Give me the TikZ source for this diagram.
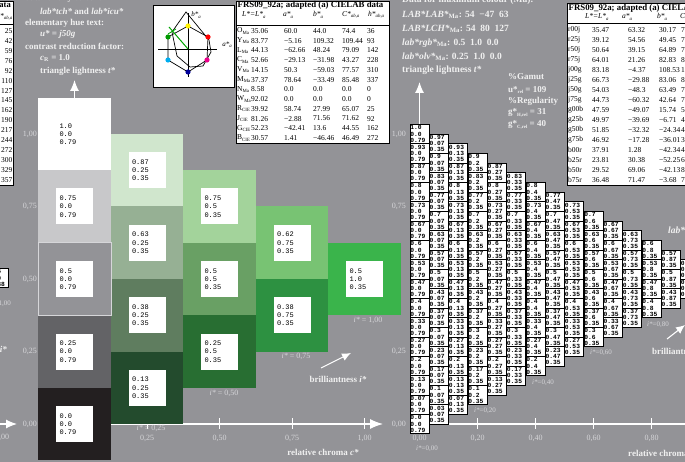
\documentclass[tikz,border=0pt]{standalone}
\usepackage{fontspec}
\setmainfont{Liberation Serif}
\setmonofont{Liberation Mono}
\usepackage{tikz}
\usetikzlibrary{arrows.meta,positioning}
\definecolor{bgray}{RGB}{147,147,151}
\definecolor{txtw}{RGB}{240,240,240}
\definecolor{txtl}{RGB}{214,214,217}
\definecolor{nA}{RGB}{200,200,202}
\definecolor{nB}{RGB}{99,99,102}
\definecolor{nC}{RGB}{35,31,32}
\definecolor{gA}{RGB}{208,230,205}
\definecolor{gB}{RGB}{150,176,148}
\definecolor{gC}{RGB}{95,125,95}
\definecolor{gD}{RGB}{35,75,45}
\definecolor{gE}{RGB}{163,211,155}
\definecolor{gF}{RGB}{105,160,100}
\definecolor{gG}{RGB}{40,110,50}
\definecolor{gH}{RGB}{120,195,115}
\definecolor{gI}{RGB}{45,145,65}
\definecolor{gJ}{RGB}{58,180,75}
\tikzstyle{cell} = [rectangle, inner sep=0pt, minimum width=72.5pt, minimum height=72.5pt]
\tikzstyle{inbox} = [rectangle, fill=white, inner sep=3.5pt, text width=30pt,
    minimum height=36pt, align=left, font=\fontsize{7}{8.3}\selectfont\ttfamily]
\tikzstyle{tcell} = [rectangle, draw=black, line width=0.7pt, fill=white, inner sep=0.4pt,
    text width=18.5pt, minimum height=19.3pt, align=left,
    font=\fontsize{6.3}{6.1}\selectfont\ttfamily\bfseries]
\tikzstyle{line} = [draw, color=white, line width=1.1pt, -{Latex[length=11pt,width=9pt]}]
\tikzstyle{head} = [text=txtw, font=\fontsize{9}{10}\selectfont\bfseries, anchor=west, inner sep=0pt]
\tikzstyle{axlabel} = [text=txtl, font=\fontsize{8}{9}\selectfont, inner sep=0pt]
\tikzstyle{tab} = [font=\fontsize{7.5}{8}\selectfont, anchor=west, inner sep=0pt]
\tikzstyle{tabframe} = [draw=black, line width=0.9pt, fill=white]
\newcommand\tsub[1]{\raisebox{-1.3pt}{\fontsize{4.8}{5}\selectfont #1}}
\newcommand\thirty[1]{\ifcase#1 0.0\or 0.03\or 0.07\or 0.1\or 0.13\or 0.17\or 0.2\or 0.23\or
  0.27\or 0.3\or 0.33\or 0.37\or 0.4\or 0.43\or 0.47\or 0.5\or 0.53\or 0.57\or 0.6\or
  0.63\or 0.67\or 0.7\or 0.73\or 0.77\or 0.8\or 0.83\or 0.87\or 0.9\or 0.93\or 0.97\or 1.0\fi}

\begin{document}
\begin{tikzpicture}[x=1pt, y=-1pt]
  \clip (0,0) rectangle (685,462);
  \fill[bgray] (0,0) rectangle (685,462);

  % neighbour page, cut off at the left
  \draw[tabframe] (-80,1) rectangle (13,185);
  \node[tab, anchor=east, font=\fontsize{8.5}{9}\selectfont\bfseries] (ntitle) at (11,5) {CIELAB data};
  \node[tab, anchor=east] (nhead) at (12.5,17) {\itshape h*\tsub{ab,a}};
  \draw (-80,24) -- (13,24);
  \foreach \vh [count=\r from 0] in {25,42,59,76,92,110,127,145,162,190,217,244,272,300,329,357}
    \node[tab, anchor=east] (nh\r) at (12.5,{31+9.93*\r}) {\vh};
  \node[tcell, anchor=north east] (ncell) at (9,268) {0.5\\1.0\\0.38};
  \node[axlabel, font=\fontsize{7}{8}\selectfont] (ni) at (0,304) {\textit{i*}=1,00};
  \node[head, anchor=east] (nbr) at (7,349) {brilliantness \textit{i*}};
  \coordinate (nO) at (-40,424);
  \coordinate (nX) at (17,424);
  \path [line] (nO) -- (nX);
  \node[axlabel] (nt) at (2,437) {1,00};

  % left panel texts
  \node[head] (dany) at (25,-1.5) {data for any colour:};
  \node[head] (dlab) at (40,11.5) {\textit{lab*tch*} and \textit{lab*icu*}};
  \node[head] (dhue) at (25,23) {elementary hue text:};
  \node[head] (dhu) at (40,34.5) {\textit{u* = j50g}};
  \node[head] (dcon) at (25,46) {contrast reduction factor:};
  \node[head] (dcr) at (40,58) {\textit{c}\textsubscript{R} = 1.0};
  \node[head] (dtri) at (40,71.5) {triangle lightness \textit{t*}};

  % hue diagram
  \draw[tabframe] (153,5) rectangle (234,87);
  \draw[black, line width=0.6pt] (158,49) -- (217,49);
  \draw[black, line width=0.6pt] (188,13) -- (188,77);
  \node[tab, anchor=center, font=\fontsize{7}{8}\selectfont\itshape] (hb) at (196,15) {b*\tsub{a}};
  \node[tab, anchor=center, font=\fontsize{7}{8}\selectfont\itshape] (ha) at (227,45) {a*\tsub{a}};
  \draw[black, line width=0.7pt] (168,37) -- (188,26) -- (208,37) -- (207,60) -- (188,72) -- (168,60) -- cycle;
  \draw[black, line width=0.7pt] (172,32) -- (186,12) -- (209,40) -- (211,52) -- (203,66) -- (190,67) -- (177,56) -- cycle;
  \draw[green!65!black, line width=1pt] (188,49) -- (169,27);
  \draw[green!65!black, line width=0.8pt] (168,34) -- (176,29);
  \foreach \px/\py/\cl in {188/26/yellow, 208/37/red, 207/60/magenta, 188/72/blue!60!black,
      168/60/cyan, 168/37/green!60!black}
    \fill[\cl] (\px,\py) circle (2.6pt);

  % middle table
  \draw[tabframe] (236,1) rectangle (389,143);
  \node[tab, font=\fontsize{8.8}{9}\selectfont\bfseries] (mtitle) at (237.5,5) {FRS09\_92a; adapted (a) CIELAB data};
  \node[tab] (mhL) at (242,15) {\itshape L*=L*\tsub{a}};
  \node[tab] (mha) at (283,15) {\itshape a*\tsub{a}};
  \node[tab] (mhb) at (313,15) {\itshape b*\tsub{a}};
  \node[tab] (mhC) at (342,15) {\itshape C*\tsub{ab,a}};
  \node[tab] (mhh) at (368,15) {\itshape h*\tsub{ab,a}};
  \draw (236,25) -- (389,25);
  \foreach \lab/\sub/\vl/\va/\vb/\vc/\vh [count=\r from 0] in {
      O/Ma/35.06/60.0/44.0/74.4/36, Y/Ma/83.77/−5.16/109.32/109.44/93,
      L/Ma/44.13/−62.66/48.24/79.09/142, C/Ma/52.66/−29.13/−31.98/43.27/228,
      V/Ma/14.15/50.3/−59.03/77.57/310, M/Ma/37.37/78.64/−33.49/85.48/337,
      N/Ma/8.58/0.0/0.0/0.0/0, W/Ma/92.02/0.0/0.0/0.0/0,
      R/CIE/39.92/58.74/27.99/65.07/25, J/CIE/81.26/−2.88/71.56/71.62/92,
      G/CIE/52.23/−42.41/13.6/44.55/162, B/CIE/30.57/1.41/−46.46/46.49/272} {
    \node[tab] (mn\r) at (237,{31+9.73*\r}) {\lab\tsub{\sub}};
    \node[tab] (mL\r) at (251,{31+9.73*\r}) {\vl};
    \node[tab] (ma\r) at (284,{31+9.73*\r}) {\va};
    \node[tab] (mb\r) at (313,{31+9.73*\r}) {\vb};
    \node[tab] (mC\r) at (342,{31+9.73*\r}) {\vc};
    \node[tab] (mh\r) at (367,{31+9.73*\r}) {\vh};
  }

  % left panel: axes
  \coordinate (lO) at (74.5,424);
  \coordinate (lX) at (383,424);
  \path [line, -{Latex[length=13pt,width=10pt]}] (lO) -- (lX);
  \foreach \c/\s in {1/{0,25},2/{0,50},3/{0,75},4/{1,00}} {
    \draw[white, line width=0.9pt] ({74.5+72.5*\c},418) -- ({74.5+72.5*\c},429);
    \node[axlabel] (lt\c) at ({74.5+72.5*\c},438) {\s};
  }
  \foreach \tv/\s in {1/{1,00},0.75/{0,75},0.5/{0,50},0.25/{0,25},0/{0,00}}
    \node[axlabel, anchor=east] (ly\s) at (37,{424-290*\tv}) {\s};

  % left panel: cells
  \foreach \j/\tv/\cl/\va/\vb/\vc [count=\n] in {
      0/1.0/white/1.0/0.0/0.79, 0/0.75/nA/0.75/0.0/0.79, 0/0.5/bgray/0.5/0.0/0.79,
      0/0.25/nB/0.25/0.0/0.79, 0/0.0/nC/0.0/0.0/0.79,
      1/0.875/gA/0.87/0.25/0.35, 1/0.625/gB/0.63/0.25/0.35,
      1/0.375/gC/0.38/0.25/0.35, 1/0.125/gD/0.13/0.25/0.35,
      2/0.75/gE/0.75/0.5/0.35, 2/0.5/gF/0.5/0.5/0.35, 2/0.25/gG/0.25/0.5/0.35,
      3/0.625/gH/0.62/0.75/0.35, 3/0.375/gI/0.38/0.75/0.35,
      4/0.5/gJ/0.5/1.0/0.35} {
    \node[cell, fill=\cl] (lc\n) at ({74.5+72.5*\j},{424-290*\tv}) {};
    \node[inbox] (lb\n) at (lc\n) {\va\\\vb\\\vc};
  }
  \draw[txtl, line width=0.8pt] (lc3.south west) rectangle (lc3.north east);
  \coordinate (lY) at (74.5,80);
  \path [line] (lc1.north) -- (lY);

  \node[axlabel] (li1) at (151,428) {\textit{i*} = 0,25};
  \node[axlabel] (li2) at (224,393) {\textit{i*} = 0,50};
  \node[axlabel] (li3) at (296,356) {\textit{i*} = 0,75};
  \node[axlabel] (li4) at (368,320) {\textit{i*} = 1,00};
  \node[head, anchor=center] (lbr) at (338,379) {brilliantness \textit{i*}};
  \coordinate (lbA) at (321,368);
  \coordinate (lbB) at (351,353);
  \path [line, -{Latex[length=9pt,width=8pt]}] (lbA) -- (lbB);
  \node[head, anchor=center] (lrc) at (323,452) {relative chroma \textit{c*}};

  % right panel texts
  \node[head, font=\fontsize{9.5}{10}\selectfont\bfseries] (rdata) at (402,0) {Data for maximum colour (Ma):};
  \node[head, font=\fontsize{9.5}{10}\selectfont\bfseries] (rlab) at (402,15) {\textit{LAB*LAB*}\textsubscript{Ma}: 54~~−47~~63};
  \node[head, font=\fontsize{9.5}{10}\selectfont\bfseries] (rlch) at (402,28.5) {\textit{LAB*LCH*}\textsubscript{Ma}: 54~~80~~127};
  \node[head, font=\fontsize{9.5}{10}\selectfont\bfseries] (rrgb) at (402,43) {\textit{lab*rgb*}\textsubscript{Ma}: 0.5~~1.0~~0.0};
  \node[head, font=\fontsize{9.5}{10}\selectfont\bfseries] (rolv) at (402,57) {\textit{lab*olv*}\textsubscript{Ma}: 0.25~~1.0~~0.0};
  \node[head, font=\fontsize{9.5}{10}\selectfont\bfseries] (rtri) at (402,70) {triangle lightness \textit{t*}};
  \node[head] (rgam) at (508,77) {\%Gamut};
  \node[head] (rurel) at (508,90) {u*\tsub{rel} = 109};
  \node[head] (rreg) at (508,101) {\%Regularity};
  \node[head] (rgh) at (508,113) {g*\tsub{H,rel} = 31};
  \node[head] (rgc) at (508,125) {g*\tsub{C,rel} = 40};
  \node[head, font=\fontsize{9.5}{10}\selectfont\bfseries\itshape] (rtop) at (669,-2.5) {lab*};
  \node[head, font=\fontsize{9.5}{10}\selectfont\bfseries\itshape] (rmid) at (668,230) {lab*};

  % right table
  \draw[tabframe] (567,3.5) rectangle (720,185);
  \node[tab, font=\fontsize{8.8}{9}\selectfont\bfseries] (rtitle) at (568.5,8.5) {FRS09\_92a; adapted (a) CIELAB data};
  \node[tab] (rhL) at (585,17) {\itshape L*=L*\tsub{a}};
  \node[tab] (rha) at (622,17) {\itshape a*\tsub{a}};
  \node[tab] (rhb) at (657,17) {\itshape b*\tsub{a}};
  \node[tab] (rhC) at (680,17) {\itshape C*\tsub{ab,a}};
  \draw (567,23.5) -- (720,23.5);
  \foreach \lab/\vl/\va/\vb/\vc [count=\r from 0] in {
      r00j/35.47/63.32/30.17/70.14, r25j/39.12/54.56/49.45/73.64,
      r50j/50.64/39.15/64.89/75.79, r75j/64.01/21.26/82.83/85.52,
      j00g/83.18/−4.37/108.53/108.62, j25g/66.73/−29.88/83.06/88.27,
      j50g/54.03/−48.3/63.49/79.77, j75g/44.73/−60.32/42.64/73.87,
      g00b/47.59/−49.07/15.74/51.53, g25b/49.97/−39.69/−6.71/40.25,
      g50b/51.85/−32.32/−24.34/40.46, g75b/46.92/−17.28/−36.01/39.94,
      b00r/37.91/1.28/−42.34/42.36, b25r/23.81/30.38/−52.25/60.44,
      b50r/29.52/69.06/−42.13/80.9, b75r/36.48/71.47/−3.68/71.56} {
    \node[tab] (rn\r) at (568,{30+10*\r}) {\lab};
    \node[tab] (rL\r) at (592,{30+10*\r}) {\vl};
    \node[tab] (ra\r) at (628,{30+10*\r}) {\va};
    \node[tab] (rb\r) at (659,{30+10*\r}) {\vb};
    \node[tab] (rC\r) at (681,{30+10*\r}) {\vc};
  }

  % right panel: axes
  \coordinate (rO) at (419.5,424);
  \coordinate (rX) at (740,424);
  \path [line] (rO) -- (rX);
  \foreach \c/\s in {0/{0,00},1/{0,20},2/{0,40},3/{0,60},4/{0,80}} {
    \draw[white, line width=0.9pt] ({419.5+58*\c},418) -- ({419.5+58*\c},429);
    \node[axlabel] (rt\c) at ({419.5+58*\c},438) {\s};
  }
  \foreach \tv/\s in {1/{1,00},0.75/{0,75},0.25/{0,25},0/{0,00}}
    \node[axlabel, anchor=east] (ry\s) at (406,{424-290*\tv}) {\s};

  % right panel: triangle of cells
  \foreach \j in {0,...,14} {
    \pgfmathtruncatemacro\last{15-\j}
    \pgfmathtruncatemacro\cc{2*\j}
    \foreach \i in {0,...,\last} {
      \pgfmathtruncatemacro\n{30-\j-2*\i}
      \node[tcell] (r\j-\i) at ({419.5+290*\j/15},{424-290*\n/30})
        {\thirty{\n}\\\thirty{\cc}\\\ifnum\j=0 0.79\else 0.35\fi};
    }
  }
  \coordinate (rY) at (419.5,82);
  \path [line] (r0-0.north) -- (rY);

  \node[axlabel, font=\fontsize{7}{8}\selectfont] (ri0) at (427,449) {\textit{i*}=0,00};
  \node[axlabel, font=\fontsize{7}{8}\selectfont] (ri1) at (485,411) {\textit{i*}=0,20};
  \node[axlabel, font=\fontsize{7}{8}\selectfont] (ri2) at (543,383) {\textit{i*}=0,40};
  \node[axlabel, font=\fontsize{7}{8}\selectfont] (ri3) at (601,353) {\textit{i*}=0,60};
  \node[axlabel, font=\fontsize{7}{8}\selectfont] (ri4) at (658,325) {\textit{i*}=0,80};
  \node[head] (rbr) at (652,351) {brilliantness \textit{i*}};
  \coordinate (rbA) at (667,339);
  \coordinate (rbB) at (685,325);
  \path [line, -{Latex[length=9pt,width=8pt]}] (rbA) -- (rbB);
  \node[head] (rrc) at (628,453) {relative chroma \textit{c*}};
\end{tikzpicture}
\end{document}
